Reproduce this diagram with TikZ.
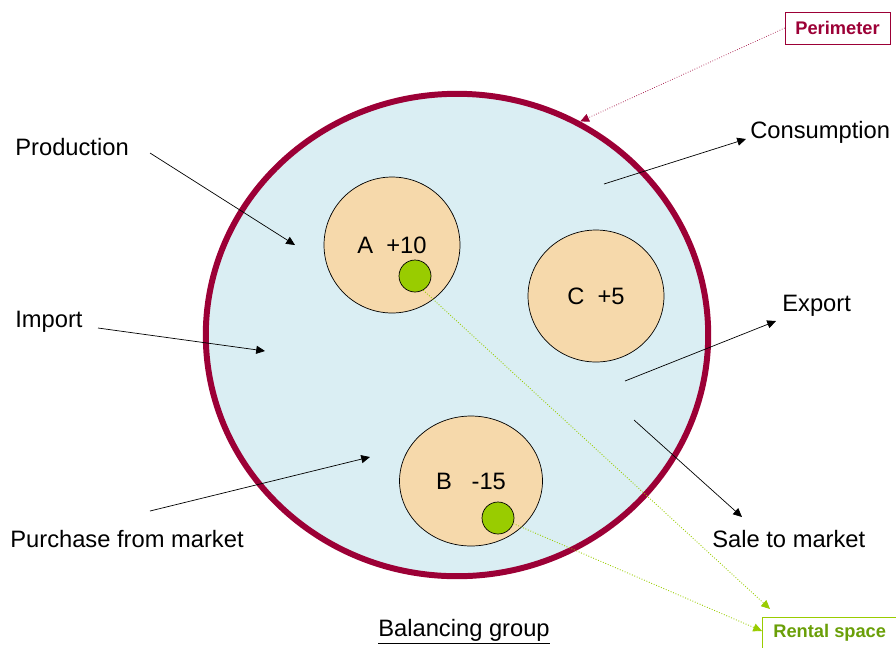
\documentclass[tikz,border=0pt]{standalone}
\usepackage{fontspec}
\setmainfont{Liberation Sans}
\usetikzlibrary{shapes.geometric, arrows.meta}
\definecolor{wine}{HTML}{9C0036}
\definecolor{skyfill}{HTML}{DAEEF3}
\definecolor{tanfill}{HTML}{F6D9AB}
\definecolor{leaf}{HTML}{99CC00}
\definecolor{leafdark}{HTML}{6A9F08}
\begin{document}
\begin{tikzpicture}[x=0.02cm, y=-0.02cm, >={Triangle[length=5pt, width=4.6pt]},
    lbl/.style={font=\fontsize{13.5}{16}\selectfont, inner sep=0pt},
    party/.style={ellipse, draw=black, fill=tanfill, inner sep=0pt,
        font=\fontsize{13.5}{16}\selectfont},
    dot/.style={circle, draw=black, fill=leaf, minimum size=0.64cm, inner sep=0pt},
    tag/.style={draw, font=\bfseries\fontsize{10.4}{12}\selectfont, inner sep=0pt}]
    \useasboundingbox (0, 0) rectangle (896, 647);
    \begin{scope}
        \clip (0, 0) rectangle (896, 647);
        % balancing group and its parties
        \node [ellipse, draw=wine, line width=3.4pt, fill=skyfill, inner sep=0pt,
            minimum width=10.05cm, minimum height=9.65cm] (group) at (457, 335) {};
        \node [party, minimum width=2.72cm, minimum height=2.72cm] (A) at (392, 245) {A\ \ +10};
        \node [party, minimum width=2.72cm, minimum height=2.64cm] (C) at (596, 296) {C\ \ +5};
        \node [party, minimum width=2.86cm, minimum height=2.6cm] (B) at (471, 481) {B\ \ \ -15};
        \node [dot] (dA) at (415, 276) {};
        \node [dot] (dB) at (498, 518) {};
        % labels
        \node [lbl, anchor=west] (prod) at (15, 147) {Production};
        \node [lbl, anchor=west] (imp) at (15, 322) {Import};
        \node [lbl, anchor=west] (purch) at (10, 539) {Purchase from market};
        \node [lbl, anchor=west] (cons) at (750, 132) {Consumption};
        \node [lbl, anchor=west] (exp) at (782, 306) {Export};
        \node [lbl, anchor=west] (sale) at (712, 539) {Sale to market};
        \node [lbl] (title) at (464, 632) {\underline{Balancing group}};
        \node [tag, draw=wine, text=wine, minimum width=2.1cm, minimum height=0.64cm] (perim) at (837.5, 28) {Perimeter};
        \node [tag, draw=leaf, anchor=north west, minimum width=2.8cm,
            minimum height=0.8cm] (rent) at (762, 617) {};
        \node [font=\bfseries\fontsize{10.4}{12}\selectfont, text=leafdark, anchor=west, inner sep=0pt] (renttext) at (773, 633) {Rental space};
        % arrow ends
        \coordinate (prodA) at (150, 153);
        \coordinate (prodB) at (295, 245);
        \coordinate (impA) at (98, 328);
        \coordinate (impB) at (265, 351);
        \coordinate (purchA) at (150, 511);
        \coordinate (purchB) at (370, 457);
        \coordinate (consA) at (604, 184);
        \coordinate (consB) at (746, 139);
        \coordinate (expA) at (625, 381);
        \coordinate (expB) at (776, 321);
        \coordinate (saleA) at (634, 420);
        \coordinate (saleB) at (742, 517);
        \coordinate (rentA) at (770, 609);
        \coordinate (rentB) at (762, 631);
        % connectors
        \draw [->] (prodA) -- (prodB);
        \draw [->] (impA) -- (impB);
        \draw [->] (purchA) -- (purchB);
        \draw [->] (consA) -- (consB);
        \draw [->] (expA) -- (expB);
        \draw [->] (saleA) -- (saleB);
        \draw [->, wine, densely dotted] (perim.west) -- (group.60);
        \draw [->, leaf, densely dotted, line width=0.5pt] (dA.-60) -- (rentA);
        \draw [->, leaf, densely dotted, line width=0.5pt] (dB.-20) -- (rentB);
    \end{scope}
\end{tikzpicture}
\end{document}
